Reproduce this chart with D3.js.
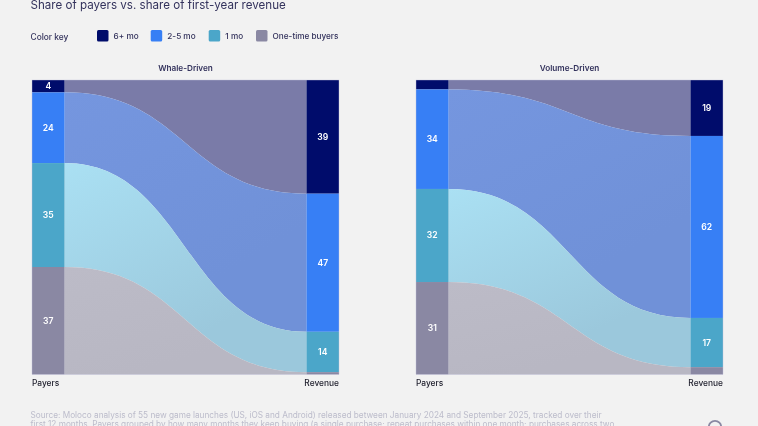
<!DOCTYPE html>
<html><head><meta charset="utf-8">
<script src="https://cdn.jsdelivr.net/npm/d3@7"></script>
<style>
html,body{margin:0;padding:0;background:#f2f2f2;overflow:hidden}
svg{filter:blur(.3px)}
text{font-family:Inter,"Open Sans",sans-serif}
</style></head><body>
<svg id="c" width="758" height="426"></svg>
<script>
const categories = ["6+ mo","2-5 mo","1 mo","One-time buyers"];
const colors = ["#000c6b","#377ff5","#4ba6c9","#8a88a3"];
const panels = ["Whale-Driven","Volume-Driven"];
const whalePayers = [4.2,24,35.3,36.5];
const whaleRevenue = [38.6,46.9,13.7,0.8];
const volumePayers = [3.2,33.8,31.6,31.4];
const volumeRevenue = [19,61.8,16.7,2.5];
const showWhalePayers = [true,true,true,true];
const showWhaleRevenue = [true,true,true,false];
const showVolumePayers = [false,true,true,true];
const showVolumeRevenue = [true,true,true,false];
const flowColorsLeft = ["#7a7ba8","#7596df","#aae0f3","#bcbbc7"];
const flowColorsRight = ["#7a7ba8","#7091d8","#9bc8dc","#b8b7c3"];
const sourceLines = [
 "Source: Moloco analysis of 55 new game launches (US, iOS and Android) released between January 2024 and September 2025, tracked over their",
 "first 12 months. Payers grouped by how many months they keep buying (a single purchase; repeat purchases within one month; purchases across two"
];
const ink = "#33325c";
const svg = d3.select("#c");
svg.append("text").attr("x",30.5).attr("y",8.5).attr("font-size",11.6).attr("fill",ink).attr("font-weight",400).text("Share of payers vs. share of first-year revenue");
svg.append("text").attr("x",30.5).attr("y",39.5).attr("font-size",8.4).attr("font-weight",500).attr("fill",ink).text("Color key");
const keyX = d3.scaleOrdinal().domain(categories).range([97,150.7,208.7,256]);
categories.forEach((c,i)=>{
  const x = keyX(c);
  svg.append("rect").attr("x",x).attr("y",30).attr("width",11.5).attr("height",11.5).attr("rx",1.5).attr("fill",colors[i]);
  svg.append("text").attr("x",x+16.6).attr("y",39).attr("font-size",8.2).attr("font-weight",500).attr("fill",ink).text(c);
});
const defs = svg.append("defs");
const yR = [80,374.5];
const fmt = d3.format(".0f");
function panel(idx,x0,name,pay,rev,showP,showR){
  const colW = 32.5, w = 307;
  const x = d3.scaleLinear().domain([0,1]).range([x0,x0+w]);
  const yP = d3.scaleLinear().domain([0,d3.sum(pay)]).range(yR);
  const yV = d3.scaleLinear().domain([0,d3.sum(rev)]).range(yR);
  const cp = d3.cumsum(pay), cr = d3.cumsum(rev);
  const g = svg.append("g");
  g.append("text").attr("x",x(.5)).attr("y",70.5).attr("text-anchor","middle").attr("font-size",8.2).attr("font-weight",600).attr("fill",ink).text(name);
  const xa = x0+colW, xb = x0+w-colW;
  const link = d3.linkHorizontal().x(d=>d[0]).y(d=>d[1]);
  categories.forEach((c,i)=>{
    const p0=yP(cp[i]-pay[i]),p1=yP(cp[i]),r0=yV(cr[i]-rev[i]),r1=yV(cr[i]);
    const id=`grad${idx}${i}`;
    const gr=defs.append("linearGradient").attr("id",id).attr("x1",0).attr("y1",0).attr("x2",.6).attr("y2",1);
    gr.append("stop").attr("offset","0%").attr("stop-color",flowColorsLeft[i]);
    gr.append("stop").attr("offset","85%").attr("stop-color",flowColorsRight[i]);
    const top=link({source:[xa,p0],target:[xb,r0]});
    const bottom=link({source:[xb,r1],target:[xa,p1]});
    g.append("path").attr("d",top+"L"+bottom.slice(1)+"Z").attr("fill",`url(#${id})`);
    g.append("rect").attr("x",x0).attr("y",p0).attr("width",colW).attr("height",p1-p0).attr("fill",colors[i]);
    g.append("rect").attr("x",xb).attr("y",r0).attr("width",colW).attr("height",r1-r0).attr("fill",colors[i]);
    if(showP[i]) g.append("text").attr("x",x0+colW/2).attr("y",(p0+p1)/2+3).attr("text-anchor","middle").attr("font-size",8.6).attr("font-weight",600).attr("fill","#fff").text(fmt(pay[i]));
    if(showR[i]) g.append("text").attr("x",xb+colW/2).attr("y",(r0+r1)/2+3).attr("text-anchor","middle").attr("font-size",8.6).attr("font-weight",600).attr("fill","#fff").text(fmt(rev[i]));
  });
  g.append("rect").attr("x",x0).attr("y",yR[0]).attr("width",w).attr("height",yR[1]-yR[0]).attr("fill","none").attr("stroke","#c4c4dc").attr("stroke-width",.4);
  g.append("text").attr("x",x0).attr("y",386).attr("font-size",8.4).attr("font-weight",500).attr("fill","#1d1d2b").text("Payers");
  g.append("text").attr("x",x0+w).attr("y",386).attr("text-anchor","end").attr("font-size",8.4).attr("font-weight",500).attr("fill","#1d1d2b").text("Revenue");
}
panel(0,32,panels[0],whalePayers,whaleRevenue,showWhalePayers,showWhaleRevenue);
panel(1,416,panels[1],volumePayers,volumeRevenue,showVolumePayers,showVolumeRevenue);
sourceLines.forEach((l,i)=>svg.append("text").attr("x",30.5).attr("y",417.5+i*9.3).attr("font-size",8.24).attr("fill","#bcbccb").text(l));
svg.append("circle").attr("cx",715).attr("cy",427).attr("r",6.2).attr("fill","none").attr("stroke","#8a88a3").attr("stroke-width",1.8);
</script></body></html>
